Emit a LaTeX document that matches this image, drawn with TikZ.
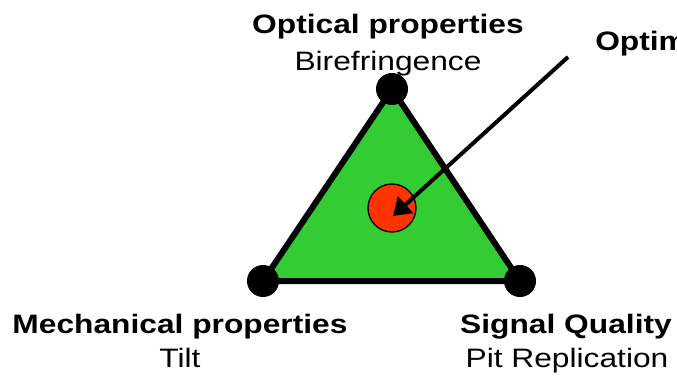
\documentclass[tikz,border=0pt]{standalone}
\usepackage{fontspec}
\setmainfont{Liberation Sans}[FakeStretch=1.19]
\usepackage{tikz}
\usetikzlibrary{positioning, arrows.meta}
\definecolor{facegreen}{RGB}{51,204,51}
\definecolor{optred}{RGB}{255,51,0}
\tikzset{
    vertex/.style = {circle, fill=black, inner sep=0pt, minimum size=24pt},
    face/.style = {draw=black, fill=facegreen, line width=4.5pt, line join=round},
    optimum/.style = {circle, draw=black, line width=1pt, fill=optred, inner sep=0pt, minimum size=36pt},
    title/.style = {font=\fontsize{20}{24}\selectfont\bfseries, anchor=base, inner sep=0pt},
    subtitle/.style = {font=\fontsize{20}{24}\selectfont, anchor=base, inner sep=0pt},
    pointer/.style = {draw, line width=3pt, -{Triangle[length=12.75pt,width=16.5pt]}},
}
\begin{document}
\begin{tikzpicture}[x=0.75pt, y=-0.75pt]
        \clip (0, 0) rectangle (677, 379);
        \useasboundingbox (0, 0) rectangle (677, 379);
        \coordinate (top) at (392, 89);
        \coordinate (lft) at (263, 281);
        \coordinate (rgt) at (520, 281);
        \filldraw[face] (top) -- (lft) -- (rgt) -- cycle;

        \node[vertex] (T) at (top) {};
        \node[vertex] (L) at (lft) {};
        \node[vertex] (R) at (rgt) {};
        \node[optimum] (opt) at (392, 208) {};

        \node[title] (optical) at (388, 33) {Optical properties};
        \node[subtitle] (biref) at (388, 70) {Birefringence};
        \node[title] (mech) at (180, 333) {Mechanical properties};
        \node[subtitle] (tilt) at (180, 367) {Tilt};
        \node[title] (signal) at (566, 333) {Signal Quality};
        \node[subtitle] (pit) at (567, 367) {Pit Replication};
        \node[title, anchor=base west] (optlabel) at (595, 50) {Optimum};

        \coordinate (tail) at (568, 57);
        \coordinate (aim) at (393, 216);
        \draw[pointer] (tail) -- (aim);
    \end{tikzpicture}
\end{document}
